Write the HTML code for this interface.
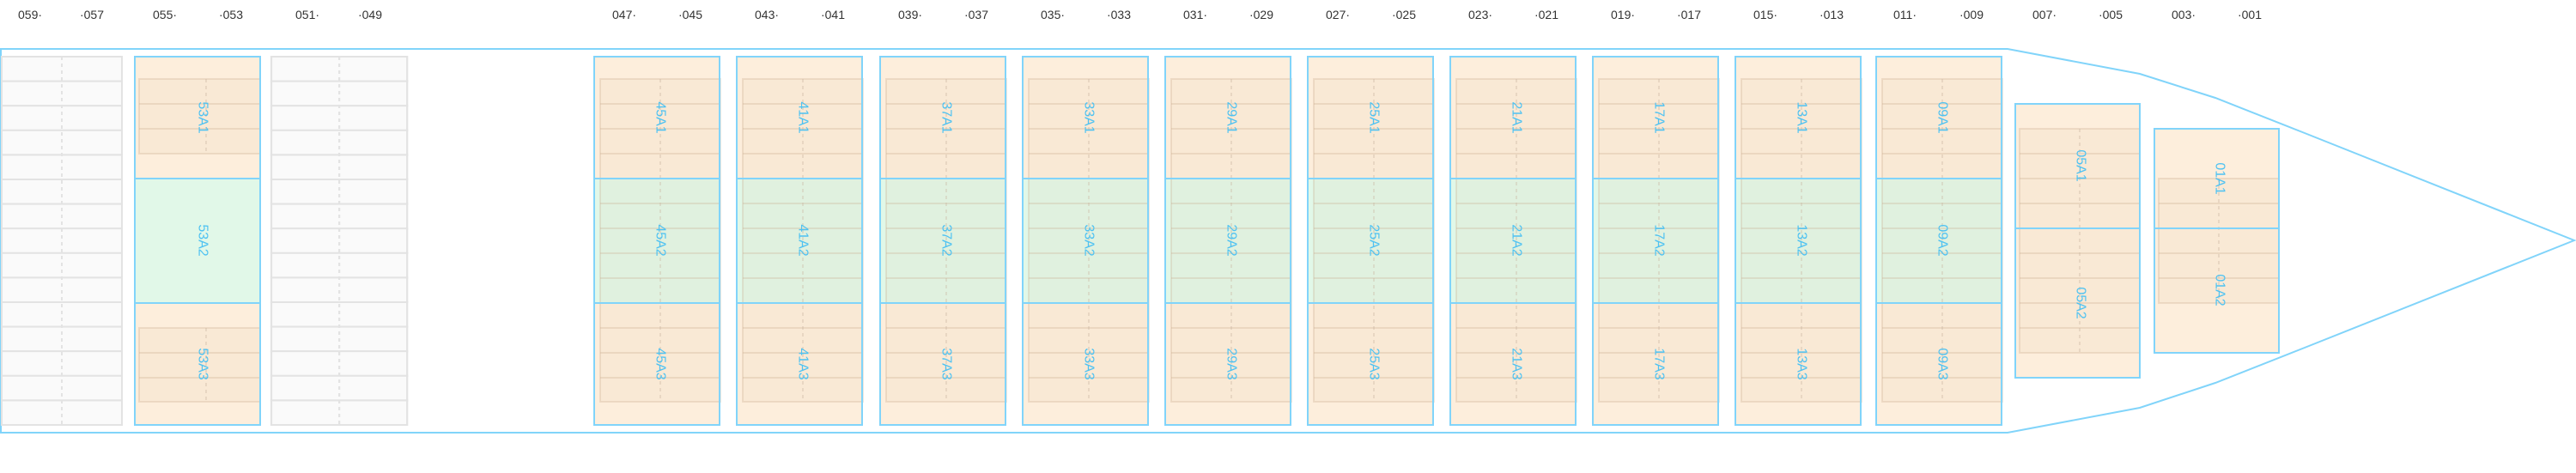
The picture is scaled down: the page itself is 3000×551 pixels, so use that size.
<!DOCTYPE html>
<html><head><meta charset="utf-8"><style>
html,body{margin:0;padding:0;background:#fff;}
svg{display:block;}
.t{font-family:"Liberation Sans",sans-serif;font-size:14px;fill:#333;}
.l{font-family:"Liberation Sans",sans-serif;font-size:16px;fill:#4ec2f2;}
</style></head><body>
<svg width="3000" height="551" viewBox="0 0 3000 551" xmlns="http://www.w3.org/2000/svg">
<defs>
<g id="grid13">
  <rect x="7" y="92" width="140" height="376" fill="rgba(225,195,165,0.12)" stroke="rgba(200,170,140,0.28)" stroke-width="2"/>
  <g stroke="rgba(200,170,140,0.28)" stroke-width="2">
    <line x1="7" y1="121" x2="147" y2="121"/><line x1="7" y1="150" x2="147" y2="150"/><line x1="7" y1="179" x2="147" y2="179"/>
    <line x1="7" y1="237" x2="147" y2="237"/><line x1="7" y1="266" x2="147" y2="266"/><line x1="7" y1="295" x2="147" y2="295"/><line x1="7" y1="324" x2="147" y2="324"/>
    <line x1="7" y1="382" x2="147" y2="382"/><line x1="7" y1="411" x2="147" y2="411"/><line x1="7" y1="440" x2="147" y2="440"/>
  </g>
  <line x1="77" y1="92" x2="77" y2="468" stroke="rgba(200,180,160,0.35)" stroke-width="2" stroke-dasharray="4,4"/>
</g>
<g id="bay">
  <rect x="0" y="66" width="146" height="142" fill="#fdeedc"/>
  <rect x="0" y="208" width="146" height="145" fill="#e1f8e8"/>
  <rect x="0" y="353" width="146" height="142" fill="#fdeedc"/>
  <use href="#grid13"/>
  <rect x="0" y="66" width="146" height="429" fill="none" stroke="#81d4fa" stroke-width="2"/>
  <line x1="0" y1="208" x2="146" y2="208" stroke="#81d4fa" stroke-width="2"/>
  <line x1="0" y1="353" x2="146" y2="353" stroke="#81d4fa" stroke-width="2"/>
</g>
<g id="gray">
  <g fill="#fafafa" stroke="#e3e3e3" stroke-width="2">
    <rect x="0" y="66" width="140" height="28.6"/><rect x="0" y="94.6" width="140" height="28.6"/><rect x="0" y="123.2" width="140" height="28.6"/>
    <rect x="0" y="151.8" width="140" height="28.6"/><rect x="0" y="180.4" width="140" height="28.6"/><rect x="0" y="209" width="140" height="28.6"/>
    <rect x="0" y="237.6" width="140" height="28.6"/><rect x="0" y="266.2" width="140" height="28.6"/><rect x="0" y="294.8" width="140" height="28.6"/>
    <rect x="0" y="323.4" width="140" height="28.6"/><rect x="0" y="352" width="140" height="28.6"/><rect x="0" y="380.6" width="140" height="28.6"/>
    <rect x="0" y="409.2" width="140" height="28.6"/><rect x="0" y="437.8" width="140" height="28.6"/><rect x="0" y="466.4" width="140" height="28.6"/>
  </g>
  <line x1="70" y1="66" x2="70" y2="495" stroke="#e3e3e3" stroke-width="2" stroke-dasharray="4,4"/>
</g>
</defs>

<polygon points="1,57 2338,57 2492,86 2580,114 2684,155 2998,280 2684,405 2580,446 2492,475 2338,504 1,504" fill="none" stroke="#81d4fa" stroke-width="2"/>

<use href="#gray" x="2"/>
<g transform="translate(316,0) scale(1.13,1)"><use href="#gray"/></g>

<g transform="translate(157,0)">
  <rect x="0" y="66" width="146" height="142" fill="#fdeedc"/>
  <rect x="0" y="208" width="146" height="145" fill="#e1f8e8"/>
  <rect x="0" y="353" width="146" height="142" fill="#fdeedc"/>
  <g fill="rgba(225,195,165,0.12)" stroke="rgba(200,170,140,0.28)" stroke-width="2">
    <rect x="5" y="92" width="141" height="87"/><line x1="5" y1="121" x2="146" y2="121"/><line x1="5" y1="150" x2="146" y2="150"/>
    <rect x="5" y="382" width="141" height="86"/><line x1="5" y1="411" x2="146" y2="411"/><line x1="5" y1="440" x2="146" y2="440"/>
  </g>
  <g stroke="rgba(200,180,160,0.35)" stroke-width="2" stroke-dasharray="4,4"><line x1="83" y1="92" x2="83" y2="179"/><line x1="83" y1="382" x2="83" y2="468"/></g>
  <rect x="0" y="66" width="146" height="429" fill="none" stroke="#81d4fa" stroke-width="2"/>
  <line x1="0" y1="208" x2="146" y2="208" stroke="#81d4fa" stroke-width="2"/>
  <line x1="0" y1="353" x2="146" y2="353" stroke="#81d4fa" stroke-width="2"/>
</g>

<use href="#bay" x="692"/><use href="#bay" x="858"/><use href="#bay" x="1025"/><use href="#bay" x="1191"/><use href="#bay" x="1357"/>
<use href="#bay" x="1523"/><use href="#bay" x="1689"/><use href="#bay" x="1855"/><use href="#bay" x="2021"/><use href="#bay" x="2185"/>

<g transform="translate(2347,0)">
  <rect x="0" y="121" width="145" height="319" fill="#fdeedc" />
  <rect x="5" y="150" width="140" height="261" fill="rgba(225,195,165,0.12)" stroke="rgba(200,170,140,0.28)" stroke-width="2"/>
  <g stroke="rgba(200,170,140,0.28)" stroke-width="2">
    <line x1="5" y1="179" x2="145" y2="179"/><line x1="5" y1="208" x2="145" y2="208"/><line x1="5" y1="237" x2="145" y2="237"/>
    <line x1="5" y1="295" x2="145" y2="295"/><line x1="5" y1="324" x2="145" y2="324"/><line x1="5" y1="353" x2="145" y2="353"/><line x1="5" y1="382" x2="145" y2="382"/>
  </g>
  <line x1="75" y1="150" x2="75" y2="411" stroke="rgba(200,180,160,0.35)" stroke-width="2" stroke-dasharray="4,4"/>
  <rect x="0" y="121" width="145" height="319" fill="none" stroke="#81d4fa" stroke-width="2"/>
  <line x1="0" y1="266" x2="145" y2="266" stroke="#81d4fa" stroke-width="2"/>
</g>
<g transform="translate(2509,0)">
  <rect x="0" y="150" width="145" height="261" fill="#fdeedc" />
  <rect x="5" y="208" width="140" height="145" fill="rgba(225,195,165,0.12)" stroke="rgba(200,170,140,0.28)" stroke-width="2"/>
  <g stroke="rgba(200,170,140,0.28)" stroke-width="2">
    <line x1="5" y1="237" x2="145" y2="237"/><line x1="5" y1="295" x2="145" y2="295"/><line x1="5" y1="324" x2="145" y2="324"/>
  </g>
  <line x1="75" y1="208" x2="75" y2="353" stroke="rgba(200,180,160,0.35)" stroke-width="2" stroke-dasharray="4,4"/>
  <rect x="0" y="150" width="145" height="261" fill="none" stroke="#81d4fa" stroke-width="2"/>
  <line x1="0" y1="266" x2="145" y2="266" stroke="#81d4fa" stroke-width="2"/>
</g>

<g class="t" dominant-baseline="central">
<text x="21" y="17">059·</text><text x="121" y="17" text-anchor="end">·057</text>
<text x="178" y="17">055·</text><text x="283" y="17" text-anchor="end">·053</text>
<text x="344" y="17">051·</text><text x="445" y="17" text-anchor="end">·049</text>
<text x="713" y="17">047·</text><text x="818" y="17" text-anchor="end">·045</text>
<text x="879" y="17">043·</text><text x="984" y="17" text-anchor="end">·041</text>
<text x="1046" y="17">039·</text><text x="1151" y="17" text-anchor="end">·037</text>
<text x="1212" y="17">035·</text><text x="1317" y="17" text-anchor="end">·033</text>
<text x="1378" y="17">031·</text><text x="1483" y="17" text-anchor="end">·029</text>
<text x="1544" y="17">027·</text><text x="1649" y="17" text-anchor="end">·025</text>
<text x="1710" y="17">023·</text><text x="1815" y="17" text-anchor="end">·021</text>
<text x="1876" y="17">019·</text><text x="1981" y="17" text-anchor="end">·017</text>
<text x="2042" y="17">015·</text><text x="2147" y="17" text-anchor="end">·013</text>
<text x="2205" y="17">011·</text><text x="2310" y="17" text-anchor="end">·009</text>
<text x="2367" y="17">007·</text><text x="2472" y="17" text-anchor="end">·005</text>
<text x="2529" y="17">003·</text><text x="2634" y="17" text-anchor="end">·001</text>
</g>

<g class="l" text-anchor="middle" dominant-baseline="central">
<text transform="translate(236,137) rotate(90)">53A1</text><text transform="translate(236,280) rotate(90)">53A2</text><text transform="translate(236,424) rotate(90)">53A3</text>
<text transform="translate(769,137) rotate(90)">45A1</text><text transform="translate(769,280) rotate(90)">45A2</text><text transform="translate(769,424) rotate(90)">45A3</text>
<text transform="translate(935,137) rotate(90)">41A1</text><text transform="translate(935,280) rotate(90)">41A2</text><text transform="translate(935,424) rotate(90)">41A3</text>
<text transform="translate(1102,137) rotate(90)">37A1</text><text transform="translate(1102,280) rotate(90)">37A2</text><text transform="translate(1102,424) rotate(90)">37A3</text>
<text transform="translate(1268,137) rotate(90)">33A1</text><text transform="translate(1268,280) rotate(90)">33A2</text><text transform="translate(1268,424) rotate(90)">33A3</text>
<text transform="translate(1434,137) rotate(90)">29A1</text><text transform="translate(1434,280) rotate(90)">29A2</text><text transform="translate(1434,424) rotate(90)">29A3</text>
<text transform="translate(1600,137) rotate(90)">25A1</text><text transform="translate(1600,280) rotate(90)">25A2</text><text transform="translate(1600,424) rotate(90)">25A3</text>
<text transform="translate(1766,137) rotate(90)">21A1</text><text transform="translate(1766,280) rotate(90)">21A2</text><text transform="translate(1766,424) rotate(90)">21A3</text>
<text transform="translate(1932,137) rotate(90)">17A1</text><text transform="translate(1932,280) rotate(90)">17A2</text><text transform="translate(1932,424) rotate(90)">17A3</text>
<text transform="translate(2098,137) rotate(90)">13A1</text><text transform="translate(2098,280) rotate(90)">13A2</text><text transform="translate(2098,424) rotate(90)">13A3</text>
<text transform="translate(2262,137) rotate(90)">09A1</text><text transform="translate(2262,280) rotate(90)">09A2</text><text transform="translate(2262,424) rotate(90)">09A3</text>
<text transform="translate(2423,193) rotate(90)">05A1</text><text transform="translate(2423,353) rotate(90)">05A2</text>
<text transform="translate(2585,208) rotate(90)">01A1</text><text transform="translate(2585,338) rotate(90)">01A2</text>
</g>
</svg>
</body></html>
